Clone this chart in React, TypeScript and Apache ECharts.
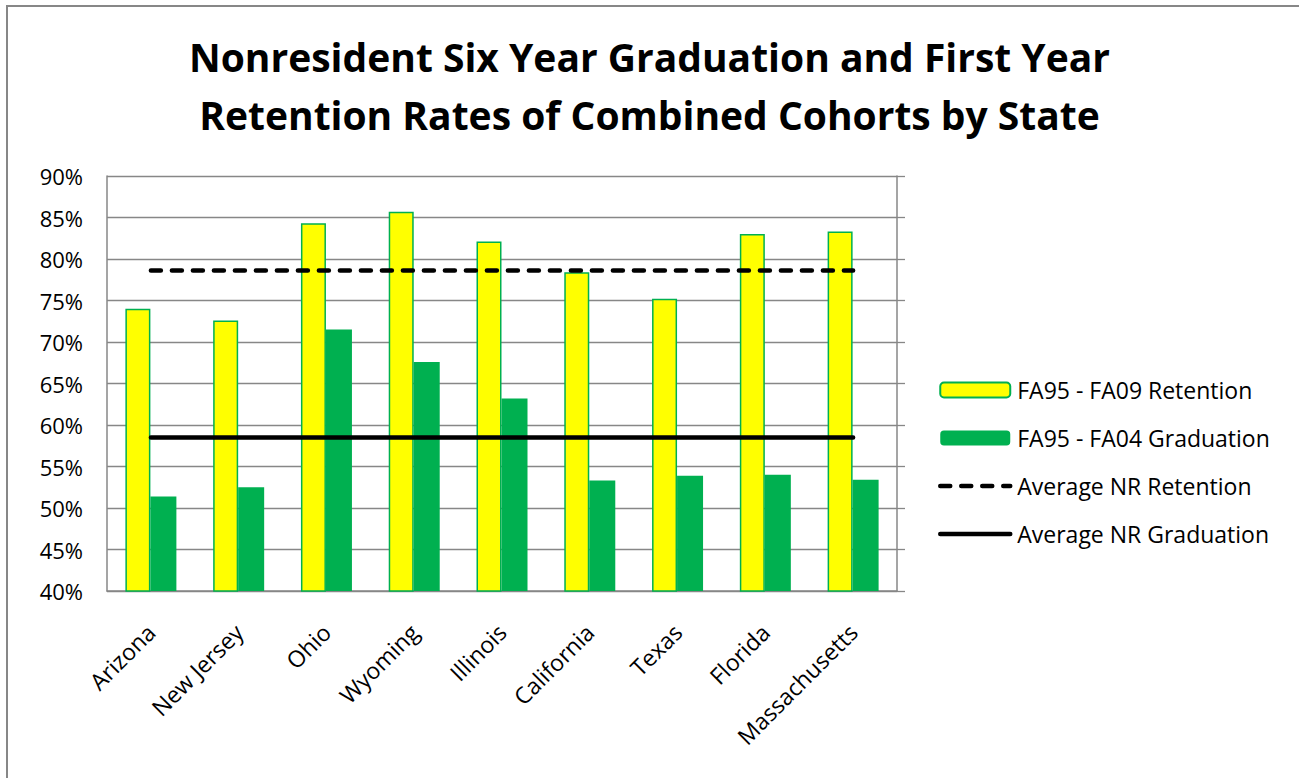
import React, { useEffect, useRef } from "react";
import * as echarts from "echarts";

const states = ["Arizona", "New Jersey", "Ohio", "Wyoming", "Illinois", "California", "Texas", "Florida", "Massachusetts"];
const retention = [74.0, 72.6, 84.3, 85.7, 82.1, 78.4, 75.2, 83.0, 83.3];
const graduation = [51.4, 52.5, 71.5, 67.6, 63.2, 53.3, 53.9, 54.0, 53.4];
const avgRetention = [78.6, 78.6, 78.6, 78.6, 78.6, 78.6, 78.6, 78.6, 78.6];
const avgGraduation = [58.5, 58.5, 58.5, 58.5, 58.5, 58.5, 58.5, 58.5, 58.5];
const titleLines = ["Nonresident Six Year Graduation and First Year", "Retention Rates of Combined Cohorts by State"];

const FONT = "'Open Sans', 'Noto Sans', sans-serif";
const GRAY = "#878787";

export default function App() {
  const ref = useRef<HTMLDivElement>(null);
  useEffect(() => {
    document.body.style.overflow = "hidden";
    const chart = echarts.init(ref.current!, null, { renderer: "svg" });
    chart.setOption({
      animation: false,
      backgroundColor: "#ffffff",
      textStyle: { fontFamily: FONT },
      title: {
        text: titleLines.join("\n"),
        left: "center",
        top: 22,
        textStyle: { fontFamily: FONT, fontWeight: "bold", fontSize: 39, lineHeight: 58, color: "#000" },
      },
      graphic: [
        {
          type: "polyline",
          shape: { points: [[7, 790], [7, 6], [1310, 6]] },
          style: { stroke: GRAY, lineWidth: 2, fill: "none" },
          silent: true,
        },
      ],
      legend: {
        orient: "vertical",
        left: 933,
        top: 372,
        itemWidth: 70,
        itemHeight: 15,
        itemGap: 22,
        textStyle: { fontFamily: FONT, fontSize: 23, color: "#000", lineHeight: 26, padding: [0, 0, 0, 2] },
        data: [
          { name: "FA95 - FA09 Retention" },
          { name: "FA95 - FA04 Graduation" },
          { name: "Average NR Retention", itemStyle: { opacity: 0 }, lineStyle: { width: 4.5 } },
          { name: "Average NR Graduation", itemStyle: { opacity: 0 }, lineStyle: { width: 4.5 } },
        ],
      },
      grid: { left: 107, top: 176, right: 402, bottom: 187, containLabel: false },
      xAxis: {
        type: "category",
        data: states,
        axisLine: { show: true, lineStyle: { color: GRAY, width: 1.5 } },
        axisTick: { show: false },
        axisLabel: {
          rotate: 45,
          interval: 0,
          margin: 37,
          verticalAlign: "middle",
          fontFamily: FONT,
          fontSize: 23,
          color: "#000",
        },
      },
      yAxis: [
        {
          type: "value",
          min: 40,
          max: 90,
          interval: 5,
          axisLine: { show: true, lineStyle: { color: GRAY, width: 1.5 } },
          axisTick: { show: false },
          splitLine: { show: true, lineStyle: { color: GRAY, width: 1.3 } },
          axisLabel: { formatter: "{value}%", fontFamily: FONT, fontSize: 22, color: "#000", margin: 24 },
        },
        {
          type: "value",
          min: 40,
          max: 90,
          interval: 5,
          position: "right",
          axisLine: { show: true, lineStyle: { color: GRAY, width: 1.5 } },
          axisTick: { show: true, length: 8, inside: false, lineStyle: { color: GRAY, width: 1.3 } },
          splitLine: { show: false },
          axisLabel: { show: false },
        },
      ],
      series: [
        {
          name: "FA95 - FA09 Retention",
          type: "bar",
          data: retention,
          barWidth: 25,
          barGap: "0%",
          itemStyle: { color: "#FFFF00", borderColor: "#00B050", borderWidth: 1.5 },
        },
        {
          name: "FA95 - FA04 Graduation",
          type: "bar",
          data: graduation,
          barWidth: 26,
          barGap: "0%",
          itemStyle: { color: "#00B050" },
        },
        {
          name: "Average NR Retention",
          type: "line",
          data: avgRetention,
          symbol: "none",
          z: 5,
          lineStyle: { color: "#000", width: 4.5, type: [10, 11], cap: "round" },
          itemStyle: { color: "rgba(0,0,0,0)" },
        },
        {
          name: "Average NR Graduation",
          type: "line",
          data: avgGraduation,
          symbol: "none",
          z: 5,
          lineStyle: { color: "#000", width: 4.5, cap: "round" },
          itemStyle: { color: "rgba(0,0,0,0)" },
        },
      ],
    });
    return () => chart.dispose();
  }, []);
  return <div ref={ref} style={{ position: "absolute", left: 0, top: 0, width: 1299, height: 778 }} />;
}
